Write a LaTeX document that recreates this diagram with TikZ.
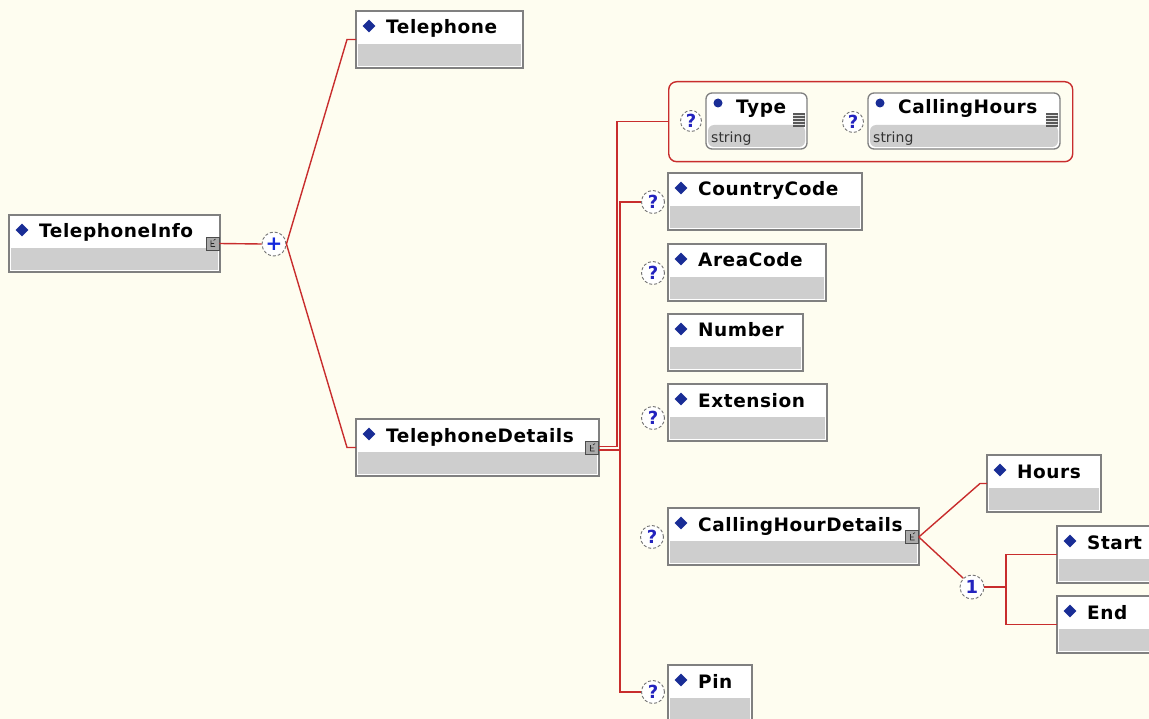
\documentclass[tikz,border=0pt]{standalone}
\usepackage{fontspec}
\usetikzlibrary{shapes.geometric,calc}
\newfontfamily\lblfont[LetterSpace=3]{DejaVu Sans}
\newfontfamily\plainfont{DejaVu Sans}
\definecolor{bg}{RGB}{254,253,240}
\definecolor{boxgray}{RGB}{206,206,206}
\definecolor{bordergray}{RGB}{128,128,128}
\definecolor{redline}{RGB}{200,45,45}
\definecolor{diamblue}{RGB}{25,45,150}
\definecolor{qblue}{RGB}{35,35,190}
\definecolor{plusblue}{RGB}{20,40,220}
\definecolor{iconfill}{RGB}{170,170,170}
\tikzset{
  elem/.style={draw=bordergray, line width=1.3pt, fill=white, anchor=north west,
    inner sep=0pt, outer sep=0pt,
    path picture={\fill[boxgray] ([shift={(2pt,2pt)}]path picture bounding box.south west)
      rectangle ([shift={(-2pt,24pt)}]path picture bounding box.south east);}},
  attr/.style={elem, rounded corners=6pt},
  lbl/.style={anchor=base west, inner sep=0pt, font=\lblfont\bfseries\fontsize{18.5pt}{18.5pt}\selectfont},
  typelbl/.style={anchor=base west, inner sep=0pt, text=black!80, font=\plainfont\fontsize{14pt}{14pt}\selectfont},
  diam/.style={diamond, fill=diamblue, minimum size=13pt, inner sep=0pt},
  dotmark/.style={circle, fill=diamblue, minimum size=9pt, inner sep=0pt},
  qc/.style={circle, draw=black!55, densely dashed, line width=0.9pt, fill=white,
    minimum size=23pt, inner sep=0pt, text=qblue, font=\plainfont\bfseries\fontsize{18pt}{18pt}\selectfont},
  conn/.style={draw=redline, line width=1.4pt},
  expicon/.style={rectangle, draw=black!70, fill=iconfill, line width=0.6pt, minimum size=13pt, inner sep=0pt,
    path picture={\draw[black!85, line width=0.6pt]
      ([shift={(-1.5pt,3pt)}]path picture bounding box.center) -- ++(0pt,-6pt) -- ++(4pt,0pt)
      ([shift={(-1.5pt,0pt)}]path picture bounding box.center) -- ++(3pt,0pt)
      ([shift={(1pt,3pt)}]path picture bounding box.center) -- ++(2pt,1.5pt);}},
  attricon/.style={rectangle, fill=black!65, minimum width=12pt, minimum height=14pt, inner sep=0pt,
    path picture={\foreach \k in {-4,-1,2,5}{\draw[white!80!gray, line width=0.7pt]
      ([shift={(-6pt,\k pt)}]path picture bounding box.center) -- ++(12pt,0pt);}}}
}
\newcommand\elembox[5]{%
  \node[elem, minimum width=#4pt, minimum height=57pt] (#1) at (#2,-#3) {};
  \node[diam] (#1-d) at ([shift={(13pt,-15pt)}]#1.north west) {};
  \node[lbl] (#1-t) at ([shift={(30pt,-23pt)}]#1.north west) {#5};}
\newcommand\attrbox[5]{%
  \node[attr, minimum width=#4pt, minimum height=56pt] (#1) at (#2,-#3) {};
  \node[dotmark] (#1-d) at ([shift={(12pt,-10pt)}]#1.north west) {};
  \node[lbl] (#1-t) at ([shift={(30pt,-21pt)}]#1.north west) {#5};
  \node[typelbl] (#1-s) at ([shift={(5pt,-50pt)}]#1.north west) {string};
  \node[attricon] (#1-i) at ([shift={(-8.5pt,-27pt)}]#1.north east) {};}
\begin{document}
\begin{tikzpicture}[x=1pt,y=1pt]
\clip (0,0) rectangle (1149,-719);
\fill[bg] (0,0) rectangle (1149,-719);

% elements
\elembox{ti}{9}{215}{211}{TelephoneInfo}
\elembox{tel}{356}{11}{167}{Telephone}
\elembox{td}{356}{419}{243}{TelephoneDetails}
\elembox{cc}{668}{173}{194}{CountryCode}
\elembox{ac}{668}{244}{158}{AreaCode}
\elembox{num}{668}{314}{135}{Number}
\elembox{ext}{668}{384}{159}{Extension}
\elembox{chd}{668}{508}{251}{CallingHourDetails}
\elembox{hours}{987}{455}{114}{Hours}
\elembox{start}{1057}{526}{120}{Start}
\elembox{end}{1057}{596}{120}{End}
\elembox{pin}{668}{665}{84}{Pin}

% expand icons
\node[expicon] (ti-x) at (212.5,-243.5) {};
\node[expicon] (td-x) at (592,-448) {};
\node[expicon] (chd-x) at (912,-537) {};

% choice group
\node[draw=redline, line width=1.4pt, rounded corners=8pt, minimum width=404pt, minimum height=80pt,
  anchor=north west, inner sep=0pt] (choice) at (668,-81) {};
\attrbox{type}{706}{93}{101}{Type}
\attrbox{ch}{868}{93}{192}{CallingHours}
\node[qc, minimum size=21pt] (qtype) at (691,-121) {?};
\node[qc, minimum size=21pt] (qch) at (853,-122) {?};

% compositor and optional markers
\node[qc, minimum size=24pt, text=plusblue, font=\plainfont\bfseries\fontsize{20pt}{20pt}\selectfont] (plus) at (274,-244) {+};
\node[qc] (qcc) at (653,-202) {?};
\node[qc] (qac) at (653,-273) {?};
\node[qc] (qext) at (653,-418) {?};
\node[qc] (qchd) at (652,-537) {?};
\node[qc] (qpin) at (653,-692) {?};
\node[qc, minimum size=24pt] (one) at (972,-587) {1};

% connectors
\path[conn] (ti-x.east) -- (plus.west);
\path[conn] (plus.east) -- ([xshift=-9pt]tel.west) -- (tel.west);
\path[conn] (plus.east) -- ([xshift=-9pt]td.west) -- (td.west);
\path[conn] ([yshift=1.8pt]td-x.east) -| ([xshift=-51pt]choice.west) -- (choice.west);
\path[conn] ([yshift=-1.8pt]td-x.east) -| ([xshift=-21pt]qcc.west) -- (qcc.west);
\path[conn] ([yshift=-1.8pt]td-x.east) -| ([xshift=-21pt]qpin.west) -- (qpin.west);
\path[conn] (chd-x.east) -- ([xshift=-7pt]hours.west) -- (hours.west);
\path[conn] (chd-x.east) -- (one.135);
\coordinate (j) at (1006,-587);
\path[conn] (one.east) -- (j);
\path[conn] (start.west) -| (j) |- (end.west);
\end{tikzpicture}
\end{document}
